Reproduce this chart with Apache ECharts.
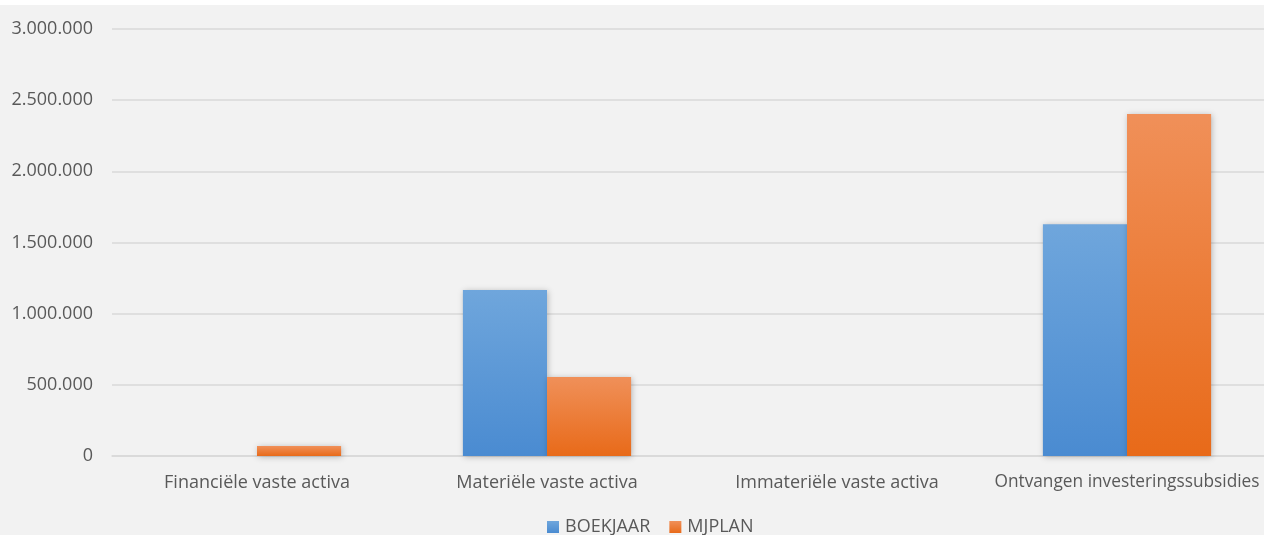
<!DOCTYPE html>
<html><head><meta charset="utf-8">
<script src="https://cdn.jsdelivr.net/npm/echarts@6/dist/echarts.min.js"></script>
<style>html,body{margin:0;padding:0;background:#fff;overflow:hidden;width:1264px;height:535px;}#c{position:absolute;left:0;top:5px;width:1272px;height:530px;background:#f2f2f2;}</style>
</head><body><div id="c"></div>
<script>
const categories = ['Financiële vaste activa','Materiële vaste activa','Immateriële vaste activa','Ontvangen investeringssubsidies'];
const boekjaar = [0, 1166000, 0, 1629000];
const mjplan = [70000, 555000, 0, 2402000];
const seriesNames = ['BOEKJAAR','MJPLAN'];
const yTicks = [0, 500000, 1000000, 1500000, 2000000, 2500000, 3000000];

const chart = echarts.init(document.getElementById('c'), null, {renderer:'canvas'});
const fmt = v => String(v).replace(/\B(?=(\d{3})+(?!\d))/g, '.');
const font = '"Open Sans", sans-serif';
const catData = categories.map((c, i) => i === categories.length - 1
  ? {value: c, textStyle: {fontSize: 17.3}} : c);
chart.setOption({
  backgroundColor: '#f2f2f2',
  animation: false,
  grid: {left: 112, right: 0, top: 24, bottom: 79, containLabel: false},
  legend: {
    bottom: -1, left: 547, padding: 0, itemWidth: 12, itemHeight: 12, itemGap: 19,
    icon: 'rect',
    textStyle: {color: '#595959', fontSize: 18, fontFamily: font, padding: [0,0,0,1]},
    data: seriesNames
  },
  xAxis: {
    type: 'category', data: catData,
    axisLine: {lineStyle: {color: '#d9d9d9', width: 1.5}},
    axisTick: {show: false},
    axisLabel: {color: '#595959', fontSize: 18, fontFamily: font, margin: 18, interval: 0}
  },
  yAxis: {
    type: 'value', min: yTicks[0], max: yTicks[yTicks.length-1], interval: 500000,
    axisLine: {show: false}, axisTick: {show: false},
    splitLine: {lineStyle: {color: '#d9d9d9', width: 1.5}},
    axisLabel: {color: '#595959', fontSize: 18, fontFamily: font, margin: 19, formatter: fmt}
  },
  series: [
    {
      name: seriesNames[0], type: 'bar', data: boekjaar, barGap: '0%', barCategoryGap: '42%',
      itemStyle: {
        color: new echarts.graphic.LinearGradient(0,0,0,1,[{offset:0,color:'#6fa6dc'},{offset:1,color:'#4a8bd1'}]),
        shadowColor: 'rgba(0,0,0,0.25)', shadowBlur: 6, shadowOffsetX: 1, shadowOffsetY: 1
      }
    },
    {
      name: seriesNames[1], type: 'bar', data: mjplan,
      itemStyle: {
        color: new echarts.graphic.LinearGradient(0,0,0,1,[{offset:0,color:'#f09059'},{offset:1,color:'#e86a19'}]),
        shadowColor: 'rgba(0,0,0,0.25)', shadowBlur: 6, shadowOffsetX: 1, shadowOffsetY: 1
      }
    }
  ]
});
</script></body></html>
